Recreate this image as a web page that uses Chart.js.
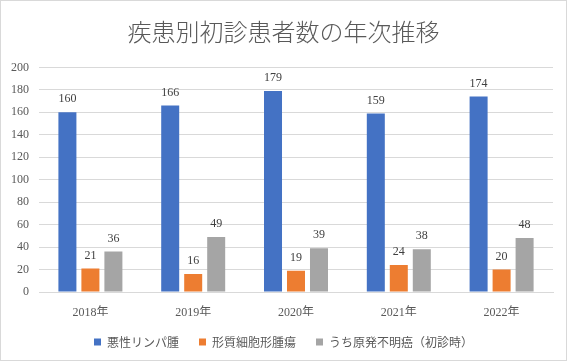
<!DOCTYPE html>
<html><head><meta charset="utf-8">
<script src="https://cdn.jsdelivr.net/npm/chart.js@4"></script>
<style>html,body{margin:0;padding:0;background:#fff}#wrap{width:567px;height:361px}</style>
</head><body><div id="wrap"><canvas id="c" width="567" height="361"></canvas></div>
<script>
const categories = ["2018年","2019年","2020年","2021年","2022年"];
const lymphoma = [160,166,179,159,174];
const plasmaCell = [21,16,19,24,20];
const unknownPrimary = [36,49,39,38,48];
const seriesNames = ["悪性リンパ腫","形質細胞形腫瘍","うち原発不明癌（初診時）"];
const yTicks = {min:0,max:200,step:20};

const numFont = '"Liberation Serif","Noto Sans CJK JP",serif';
const jpFont = '"Noto Sans CJK JP","Liberation Serif",sans-serif';

const borderPlugin = {
  id:'border',
  beforeDraw(chart){
    const ctx=chart.ctx; ctx.save();
    ctx.fillStyle='#fff'; ctx.fillRect(0,0,chart.width,chart.height);
    ctx.strokeStyle='#d9d9d9'; ctx.lineWidth=1;
    ctx.strokeRect(0.5,0.5,chart.width-1,chart.height-1);
    ctx.restore();
  }
};
const labelPlugin = {
  id:'vlabels',
  afterDatasetsDraw(chart){
    const ctx=chart.ctx; ctx.save();
    ctx.font='12px '+numFont; ctx.fillStyle='#404040';
    ctx.textAlign='center'; ctx.textBaseline='bottom';
    chart.data.datasets.forEach((ds,i)=>{
      chart.getDatasetMeta(i).data.forEach((bar,j)=>{
        ctx.fillText(String(ds.data[j]), bar.x, bar.y-7);
      });
    });
    ctx.restore();
  }
};

new Chart(document.getElementById('c'),{
  type:'bar',
  data:{
    labels:categories,
    datasets:[
      {label:seriesNames[0],data:lymphoma,backgroundColor:'#4472C4'},
      {label:seriesNames[1],data:plasmaCell,backgroundColor:'#ED7D31'},
      {label:seriesNames[2],data:unknownPrimary,backgroundColor:'#A5A5A5'}
    ]
  },
  options:{
    responsive:false,animation:false,
    datasets:{bar:{categoryPercentage:0.671,barPercentage:0.783}},
    layout:{padding:{left:0,right:0,top:0,bottom:3}},
    plugins:{
      title:{display:true,text:'疾患別初診患者数の年次推移',color:'#595959',
        font:{family:jpFont,size:24,weight:'300'},padding:{top:17,bottom:21.6}},
      legend:{position:'bottom',
        labels:{boxWidth:7,boxHeight:7,padding:20,color:'#595959',
          font:{family:jpFont,size:12}}},
      tooltip:{enabled:false}
    },
    scales:{
      x:{grid:{display:false},border:{color:'#d9d9d9'},
        ticks:{color:'#595959',font:{family:numFont,size:12},padding:6},
        afterFit(s){s.height=24;}},
      y:{min:yTicks.min,max:yTicks.max,
        ticks:{stepSize:yTicks.step,color:'#595959',font:{family:numFont,size:12},padding:10},
        grid:{color:'#d9d9d9',drawTicks:false},border:{display:false},
        afterFit(s){s.width=39;}},
      yRight:{position:'right',min:yTicks.min,max:yTicks.max,
        ticks:{display:false},grid:{display:false,drawTicks:false},border:{display:false},
        afterFit(s){s.width=14;}}
    }
  },
  plugins:[borderPlugin,labelPlugin]
});
</script></body></html>
